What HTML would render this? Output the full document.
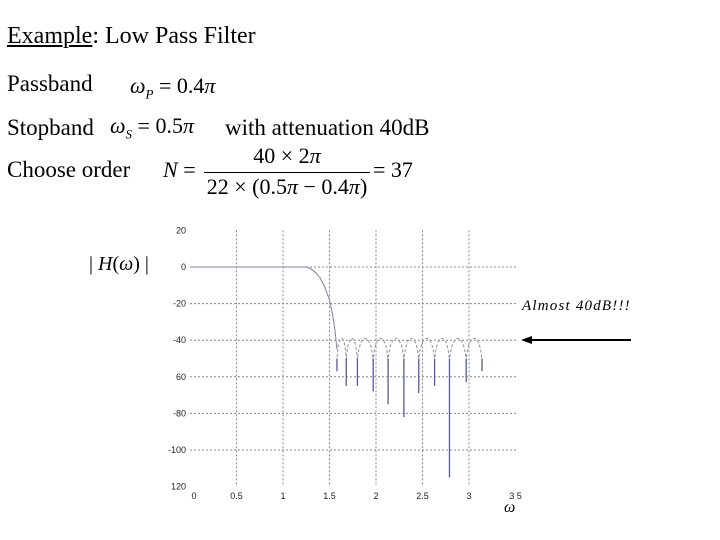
<!DOCTYPE html>
<html><head><meta charset="utf-8"><style>
body{margin:0;background:#fff;}
#wrap{position:relative;width:720px;height:540px;overflow:hidden;font-family:"Liberation Serif",serif;color:#000;}
.t{position:absolute;white-space:nowrap;font-size:23px;}
.m{font-style:italic;}
</style></head><body>
<div id="wrap">
<div class="t" style="left:7px;top:23px;font-size:24px"><span style="text-decoration:underline">Example</span>: Low Pass Filter</div>
<div class="t" style="left:7px;top:71px;">Passband</div>
<div class="t" style="left:130px;top:73px;font-size:22px"><span class="m">ω<sub style="font-size:13px">P</sub></span> = 0.4<span class="m">π</span></div>
<div class="t" style="left:7px;top:115px;">Stopband</div>
<div class="t" style="left:110px;top:113px;font-size:22px"><span class="m">ω<sub style="font-size:13px">S</sub></span> = 0.5<span class="m">π</span></div>
<div class="t" style="left:225px;top:115px;">with attenuation 40dB</div>
<div class="t" style="left:7px;top:157px;">Choose order</div>
<div class="t" style="left:163px;top:157px;font-size:22px"><span class="m">N</span> =</div>
<div class="t" style="left:204px;top:143px;width:166px;text-align:center;font-size:22px">40 × 2<span class="m">π</span></div>
<div style="position:absolute;left:204px;top:172px;width:166px;height:1px;background:#000"></div>
<div class="t" style="left:202px;top:174px;width:170px;text-align:center;font-size:22px">22 × (0.5<span class="m">π</span> − 0.4<span class="m">π</span>)</div>
<div class="t" style="left:373px;top:157px;font-size:22px">= 37</div>
<div class="t" style="left:89px;top:253px;font-size:20px">| <span class="m">H</span>(<span class="m">ω</span>) |</div>
<div class="t" style="left:522px;top:298px;font-size:15px;font-style:italic;letter-spacing:1.2px">Almost 40dB!!!</div>
<svg width="720" height="540" style="position:absolute;left:0;top:0">
<g id="grid"></g><g id="ticks"></g><g id="series"></g>
<line x1="631" y1="340" x2="530" y2="340" stroke="#000" stroke-width="2"/>
<polygon points="521,340 532,336 532,344" fill="#000"/>
<text x="504" y="512" font-family="Liberation Serif" font-style="italic" font-size="16">ω</text>
</svg>
</div>
<script>
const xTicks=[0,0.5,1,1.5,2,2.5,3,3.5];
const xTickLabels=["0","0.5","1","1.5","2","2.5","3","3 5"];
const yTicks=[20,0,-20,-40,-60,-80,-100,-120];
const yTickLabels=["20","0","-20","-40","60","-80","-100","120"];
const passX=[0,1.25,1.3,1.35,1.4,1.45,1.5,1.53,1.56,1.58];
const passY=[0,0,-1,-3,-6,-11,-18,-25,-35,-45];
const nullX=[1.58,1.68,1.80,1.97,2.13,2.30,2.46,2.63,2.79,2.97,3.14];
const nullDepth=[-57,-65,-65,-68,-75,-82,-69,-65,-115,-63,-57];
const peakY=[-39,-39,-39,-39,-39,-39,-39,-39,-39,-39];
const X=v=>190+v*93, Y=v=>267-v*1.83;
const NS='http://www.w3.org/2000/svg';
function mk(p,tag,a){const e=document.createElementNS(NS,tag);for(const k in a)e.setAttribute(k,a[k]);p.appendChild(e);return e;}
const g=document.getElementById('grid'),tk=document.getElementById('ticks'),s=document.getElementById('series');
xTicks.forEach((v,i)=>{
 if(i>0&&i<xTicks.length-1){const l=mk(g,'line',{x1:X(v),x2:X(v),y1:Y(20),y2:Y(-120),stroke:'#888','stroke-dasharray':'2,2','stroke-width':1});
 
 }
 const t=mk(tk,'text',{x:X(v)+(i==0?4:0),y:499,'text-anchor':'middle','font-family':'Liberation Sans','font-size':9,fill:'#222'});t.textContent=xTickLabels[i];
 
 
});
yTicks.forEach((v,i)=>{
 if(i>0&&i<yTicks.length-1){const l=mk(g,'line',{x1:X(0),x2:517,y1:Y(v),y2:Y(v),stroke:'#888','stroke-dasharray':'2,2','stroke-width':1});
 
 }
 const t=mk(tk,'text',{x:186,y:Y(v)+3,'text-anchor':'end','font-family':'Liberation Sans','font-size':9,fill:'#222'});t.textContent=yTickLabels[i];
 
 
});
let d='';passX.forEach((v,i)=>{d+=(i?'L':'M')+X(v)+','+Y(passY[i]);});
const pl=mk(s,'path',{d:d,fill:'none',stroke:'#8080a8','stroke-width':1});


for(let i=0;i<nullX.length-1;i++){
 const a=X(nullX[i]),b=X(nullX[i+1]),pk=Y(peakY[i]),lo=Y(peakY[i]-13);
 const c=pk-(lo-pk)/3;
 const arc=mk(s,'path',{d:`M${a},${lo} C${a+(b-a)*0.1},${c} ${b-(b-a)*0.1},${c} ${b},${lo}`,fill:'none',stroke:'#9090a8','stroke-width':1,'stroke-dasharray':'3,2'});
 
 
}
nullX.forEach((v,i)=>{
 const l=mk(s,'line',{x1:X(v),x2:X(v),y1:Y(-50),y2:Y(nullDepth[i]),stroke:'#5a5a9a','stroke-width':1.3});
 
 
});
</script>
</body></html>
